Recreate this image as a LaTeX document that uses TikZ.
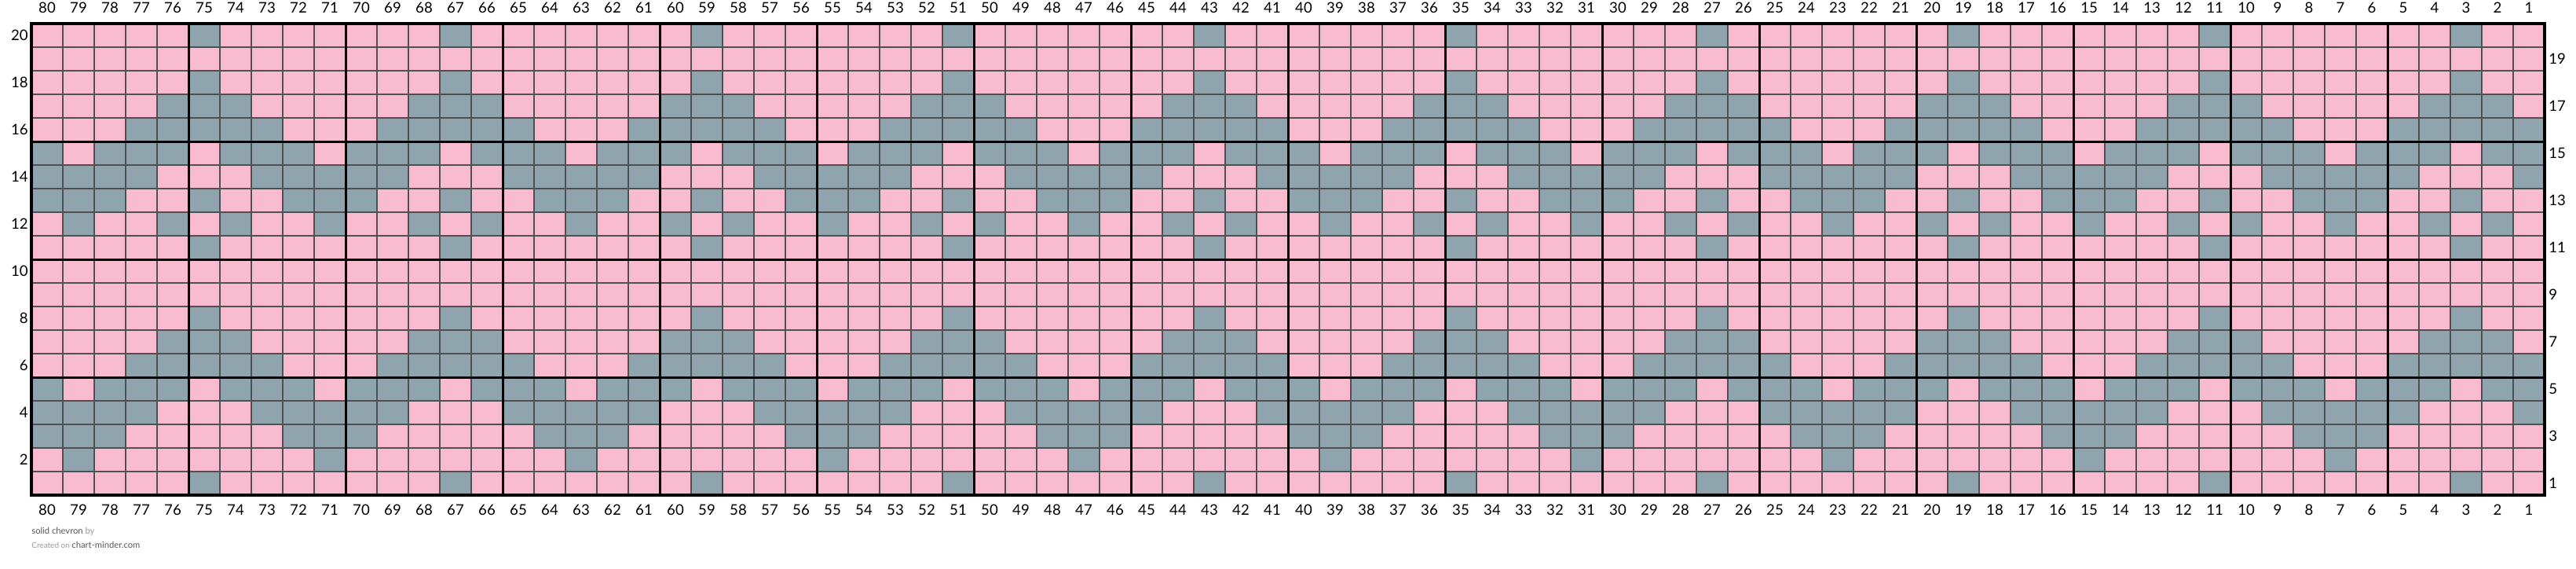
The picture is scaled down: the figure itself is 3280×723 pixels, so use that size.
\documentclass[tikz,border=0pt]{standalone}
\usepackage{fontspec}
\setmainfont{Lato}
\definecolor{pinkc}{HTML}{F8BBD0}
\definecolor{grayc}{HTML}{90A4AE}
\definecolor{linec}{HTML}{505050}
\definecolor{capdark}{HTML}{555555}
\definecolor{caplight}{HTML}{9A9A9A}
\def\masks{{0,1,16,24,28,14,7,3,1,0,0,1,18,25,28,14,7,3,1,0,1}}
\begin{document}
\begin{tikzpicture}[x=0.5pt,y=-0.5pt,
  numlabel/.style={font=\fontsize{9.3}{11}\selectfont, inner sep=0pt, text=black},
  thinline/.style={draw=linec, line width=0.6pt},
  thickline/.style={draw=black, line width=1.5pt},
  border/.style={draw=black, line width=2pt},
  caption/.style={anchor=base west, inner sep=0pt}]
\useasboundingbox (0,0) rectangle (3280,723);
\fill[pinkc] (40,30) rectangle (3240,630);
\foreach \r in {1,...,20}{
  \pgfmathtruncatemacro\m{\masks[\r]}
  \ifnum\m>0
  \foreach \c in {1,...,80}{
     \pgfmathtruncatemacro\d{mod(\c+5,8)}
     \pgfmathtruncatemacro\a{min(\d,8-\d)}
     \pgfmathtruncatemacro\g{mod(floor(\m/pow(2,\a)),2)}
     \ifnum\g=1 \fill[grayc] ({40+(80-\c)*40},{30+(20-\r)*30}) rectangle +(40,30); \fi
  }
  \fi
}
\foreach \i in {0,...,80} \draw[thinline] ({40+\i*40},30) -- ({40+\i*40},630);
\foreach \j in {0,...,20} \draw[thinline] (40,{30+\j*30}) -- (3240,{30+\j*30});
\foreach \i in {5,10,...,75} \draw[thickline] ({40+\i*40},30) -- ({40+\i*40},630);
\foreach \j in {5,10,15} \draw[thickline] (40,{30+\j*30}) -- (3240,{30+\j*30});
\draw[border] (40,30) rectangle (3240,630);
\foreach \c in {1,...,80}{
  \node[numlabel] (ct\c) at ({60+(80-\c)*40},10) {\c};
  \node[numlabel] (cb\c) at ({60+(80-\c)*40},649) {\c};
}
\foreach \r in {2,4,...,20}
  \node[numlabel,anchor=east] (rl\r) at (36,{45+(20-\r)*30}) {\r};
\foreach \r in {1,3,...,19}
  \node[numlabel,anchor=west] (rr\r) at (3245,{45+(20-\r)*30}) {\r};
\node[caption, font=\fontsize{5.6}{6}\selectfont] (title) at (40,679)
  {\textcolor{capdark}{solid chevron} \textcolor{caplight}{by}};
\node[caption, font=\fontsize{5}{6}\selectfont] (credit) at (40,697)
  {\textcolor{caplight}{Created on} \textcolor{capdark}{\fontsize{5.6}{6}\selectfont chart-minder.com}};
\end{tikzpicture}
\end{document}
